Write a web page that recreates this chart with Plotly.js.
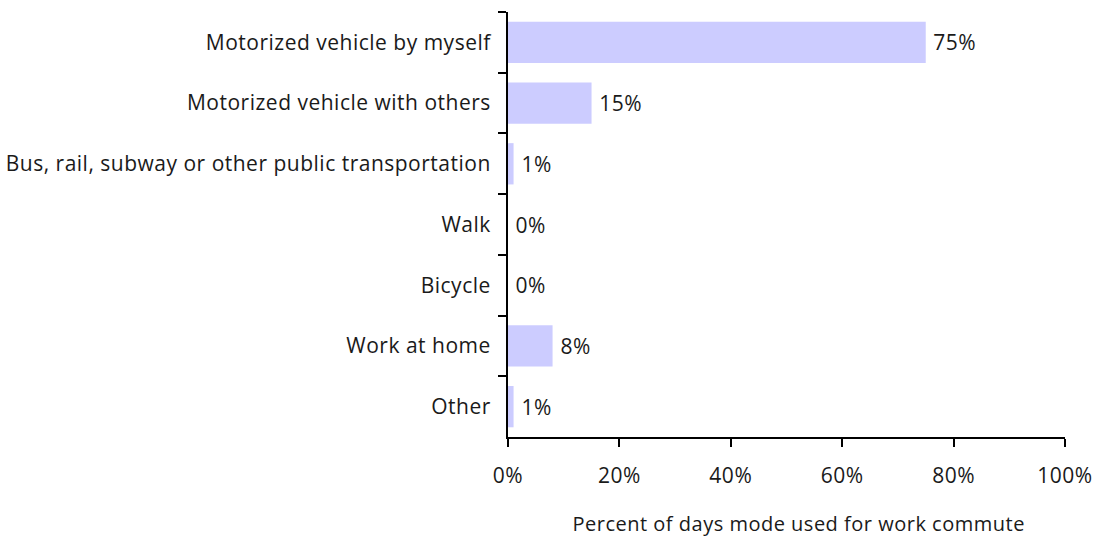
<!DOCTYPE html>
<html>
<head>
<meta charset="utf-8">
<script src="https://cdn.plot.ly/plotly-3.0.1.min.js"></script>
<style>
  html, body { margin: 0; padding: 0; background: #fff; }
  #chart { width: 1096px; height: 536px; }
  #chart svg text { letter-spacing: 0.5px; }
</style>
</head>
<body>
<div id="chart"></div>
<script>
const modes = [
  'Motorized vehicle by myself',
  'Motorized vehicle with others',
  'Bus, rail, subway or other public transportation',
  'Walk',
  'Bicycle',
  'Work at home',
  'Other'
];
const pct = [75, 15, 1, 0, 0, 8, 1];
const xTicks = [0, 20, 40, 60, 80, 100];
const xTitle = 'Percent of days mode used for work commute';

const font = '"Open Sans", Lato, sans-serif';
const ink = '#1a1a1a';

// value labels to the right of each bar
const labels = modes.map((m, i) => ({
  x: pct[i],
  y: m,
  xref: 'x',
  yref: 'y',
  text: pct[i] + '%',
  showarrow: false,
  xanchor: 'left',
  xshift: 6,
  font: {family: font, size: 21, color: ink}
}));

// axis title sits a bit right of centre in the original
labels.push({
  x: 0.521,
  y: 0,
  xref: 'paper',
  yref: 'paper',
  yanchor: 'middle',
  yshift: -86,
  text: xTitle,
  showarrow: false,
  font: {family: font, size: 20, color: ink}
});

Plotly.newPlot('chart', [{
  type: 'bar',
  orientation: 'h',
  y: modes,
  x: pct,
  width: 0.68,
  marker: {color: '#ccccff'},
  hoverinfo: 'none'
}], {
  width: 1096,
  height: 536,
  paper_bgcolor: '#fff',
  plot_bgcolor: '#fff',
  font: {family: font, size: 20, color: ink},
  margin: {l: 508, r: 31, t: 12, b: 99},
  showlegend: false,
  annotations: labels,
  xaxis: {
    range: [0, 100],
    tickvals: xTicks,
    ticktext: xTicks.map(v => v + '%'),
    ticks: 'outside',
    ticklen: 8,
    tickwidth: 2,
    tickcolor: '#000',
    ticklabelstandoff: 11,
    showline: true,
    linecolor: '#000',
    linewidth: 2,
    showgrid: false,
    zeroline: false,
    tickfont: {size: 21}
  },
  yaxis: {
    type: 'category',
    autorange: 'reversed',
    ticks: 'outside',
    tickson: 'boundaries',
    ticklen: 8,
    tickwidth: 2,
    tickcolor: '#000',
    ticklabelstandoff: 11,
    showline: true,
    linecolor: '#000',
    linewidth: 2,
    showgrid: false,
    zeroline: false,
    tickfont: {size: 21}
  }
}, {
  displayModeBar: false,
  staticPlot: true
});
</script>
</body>
</html>
